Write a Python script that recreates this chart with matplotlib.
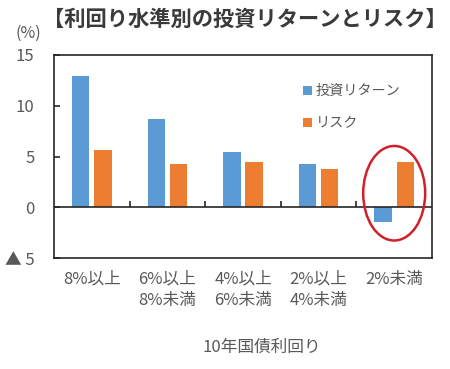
import numpy as np
import matplotlib
matplotlib.use("Agg")
from matplotlib import pyplot as plt
from matplotlib.patches import Ellipse

plt.rcParams['font.family'] = ['Noto Sans CJK JP', 'DejaVu Sans']

# data
categories = ['8%以上', '6%以上\n8%未満', '4%以上\n6%未満', '2%以上\n4%未満', '2%未満']
returns = [12.9, 8.75, 5.45, 4.3, -1.45]
risks = [5.7, 4.3, 4.5, 3.75, 4.5]
series_names = ['投資リターン', 'リスク']
y_ticks = [-5, 0, 5, 10, 15]
y_tick_labels = ['▲ 5', '0', '5', '10', '15']

blue = '#5B9BD5'
orange = '#ED7D31'
text_grey = '#595959'

fig = plt.figure(figsize=(4.5, 3.69), dpi=100)
ax = fig.add_axes([0.12, 0.30, 0.84, 0.551])

x = np.arange(len(categories))
w = 0.23
ax.bar(x - 0.147, returns, w, color=blue, label=series_names[0], zorder=2)
ax.bar(x + 0.147, risks, w, color=orange, label=series_names[1], zorder=2)

ax.set_xlim(-0.5, len(categories) - 0.5)
ax.set_ylim(-5, 15)
ax.set_yticks(y_ticks)
ax.set_yticklabels(y_tick_labels)
ax.set_xticks(x)
ax.set_xticklabels(categories, linespacing=1.3)

for s in ax.spines.values():
    s.set_color('#262626')
    s.set_linewidth(1.2)

ax.tick_params(axis='y', direction='in', length=4, width=1.2, color='#262626',
               pad=14, labelsize=12, labelcolor=text_grey)
ax.tick_params(axis='x', length=0, pad=9, labelsize=12, labelcolor=text_grey)

# zero line with category boundary ticks
ax.axhline(0, color='#262626', lw=1.2, zorder=3)
zero_pos = (0 - y_ticks[0]) / (y_ticks[-1] - y_ticks[0])
sec = ax.secondary_xaxis(zero_pos)
sec.set_xticks(x[:-1] + 0.5)
sec.tick_params(direction='in', length=4, width=1.2, color='#262626', labelbottom=False, labeltop=False)
sec.spines['bottom'].set_visible(False)
sec.spines['top'].set_visible(False)

# red ellipse around the last group
ell = Ellipse((x[-1], 1.4), 0.82, 9.3, fill=False, edgecolor='#D0202A', lw=1.8, zorder=4, clip_on=False)
ax.add_patch(ell)

leg = ax.legend(loc='upper left', bbox_to_anchor=(0.625, 0.92), frameon=False,
                handlelength=0.6, handleheight=0.6, handletextpad=0.3,
                labelspacing=1.3, fontsize=10.2)
for t in leg.get_texts():
    t.set_color(text_grey)

fig.text(0.545, 0.948, '【利回り水準別の投資リターンとリスク】', ha='center', va='center',
         fontsize=15.3, fontweight='bold', color='#3a3a3a')
fig.text(0.062, 0.91, '(%)', ha='center', va='center', fontsize=11.5, color=text_grey)
fig.text(0.581, 0.06, '10年国債利回り', ha='center', va='center', fontsize=12, color=text_grey)

plt.savefig('out.png', dpi=100)
